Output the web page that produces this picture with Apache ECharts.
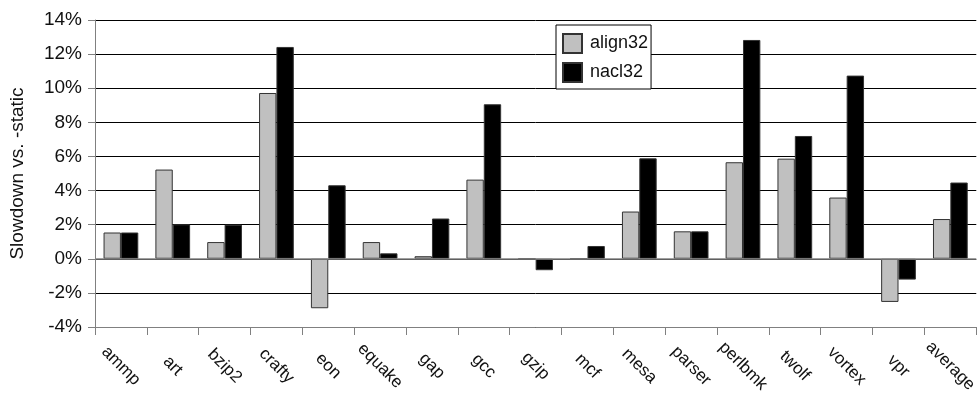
<!DOCTYPE html>
<html>
<head>
<meta charset="utf-8">
<script src="https://cdn.jsdelivr.net/npm/echarts@6/dist/echarts.min.js"></script>
<style>
html,body{margin:0;padding:0;background:#fff;}
#chart{width:980px;height:396px;}
</style>
</head>
<body>
<div id="chart"></div>
<script>
var categories = ['ammp','art','bzip2','crafty','eon','equake','gap','gcc','gzip','mcf','mesa','parser','perlbmk','twolf','vortex','vpr','average'];
var align32 = [1.54, 5.23, 0.98, 9.72, -2.9, 0.98, 0.15, 4.64, 0, 0, 2.77, 1.61, 5.66, 5.87, 3.59, -2.53, 2.33];
var nacl32  = [1.54, 2.02, 2.0, 12.42, 4.31, 0.32, 2.36, 9.06, -0.67, 0.75, 5.89, 1.61, 12.83, 7.2, 10.74, -1.22, 4.47];
var yTicks = {min: -4, max: 14, interval: 2};
var seriesNames = ['align32', 'nacl32'];

var FONT = '"Liberation Sans", Arial, sans-serif';
var chart = echarts.init(document.getElementById('chart'));
chart.setOption({
  animation: false,
  backgroundColor: '#fff',
  textStyle: {fontFamily: FONT, color: '#111'},
  grid: {left: 93, right: -1, top: 20, bottom: 69, containLabel: false},
  legend: {
    left: 556, top: 25,
    orient: 'vertical',
    padding: [8, 3, 6, 6],
    itemWidth: 19, itemHeight: 19, itemGap: 8,
    borderColor: '#000', borderWidth: 1,
    backgroundColor: '#fff',
    icon: 'rect',
    textStyle: {fontFamily: FONT, fontSize: 18, color: '#111', padding: [0, 0, 0, 3]},
    data: seriesNames
  },
  xAxis: {
    type: 'category',
    data: categories,
    axisLine: {onZero: false, lineStyle: {color: '#808080', width: 1}},
    axisTick: {show: true, alignWithLabel: false, length: 8, lineStyle: {color: '#808080'}},
    axisLabel: {
      interval: 0, rotate: -45, align: 'center', verticalAlign: 'middle',
      margin: 39, fontSize: 17, fontFamily: FONT, color: '#111'
    },
    splitLine: {show: false}
  },
  yAxis: {
    type: 'value',
    min: yTicks.min, max: yTicks.max, interval: yTicks.interval,
    name: 'Slowdown vs. -static',
    nameLocation: 'middle',
    nameGap: 68,
    nameTextStyle: {fontSize: 19, fontFamily: FONT, color: '#111'},
    axisLine: {show: true, lineStyle: {color: '#808080', width: 1}},
    axisTick: {show: true, inside: false, length: 7, lineStyle: {color: '#808080'}},
    axisLabel: {formatter: '{value}%', fontSize: 19, margin: 13, fontFamily: FONT, color: '#111'},
    splitLine: {show: true, lineStyle: {color: '#000', width: 1}}
  },
  series: [
    {
      name: seriesNames[0], type: 'bar', data: align32,
      barGap: '0%', barCategoryGap: '33%',
      itemStyle: {color: '#c0c0c0', borderColor: '#333', borderWidth: 1},
      markLine: {
        silent: true, symbol: 'none', label: {show: false},
        lineStyle: {color: '#808080', width: 1.5, type: 'solid'},
        data: [{yAxis: 0}]
      }
    },
    {
      name: seriesNames[1], type: 'bar', data: nacl32,
      barGap: '0%', barCategoryGap: '33%',
      itemStyle: {color: '#000', borderColor: '#333', borderWidth: 1}
    }
  ]
});
</script>
</body>
</html>
